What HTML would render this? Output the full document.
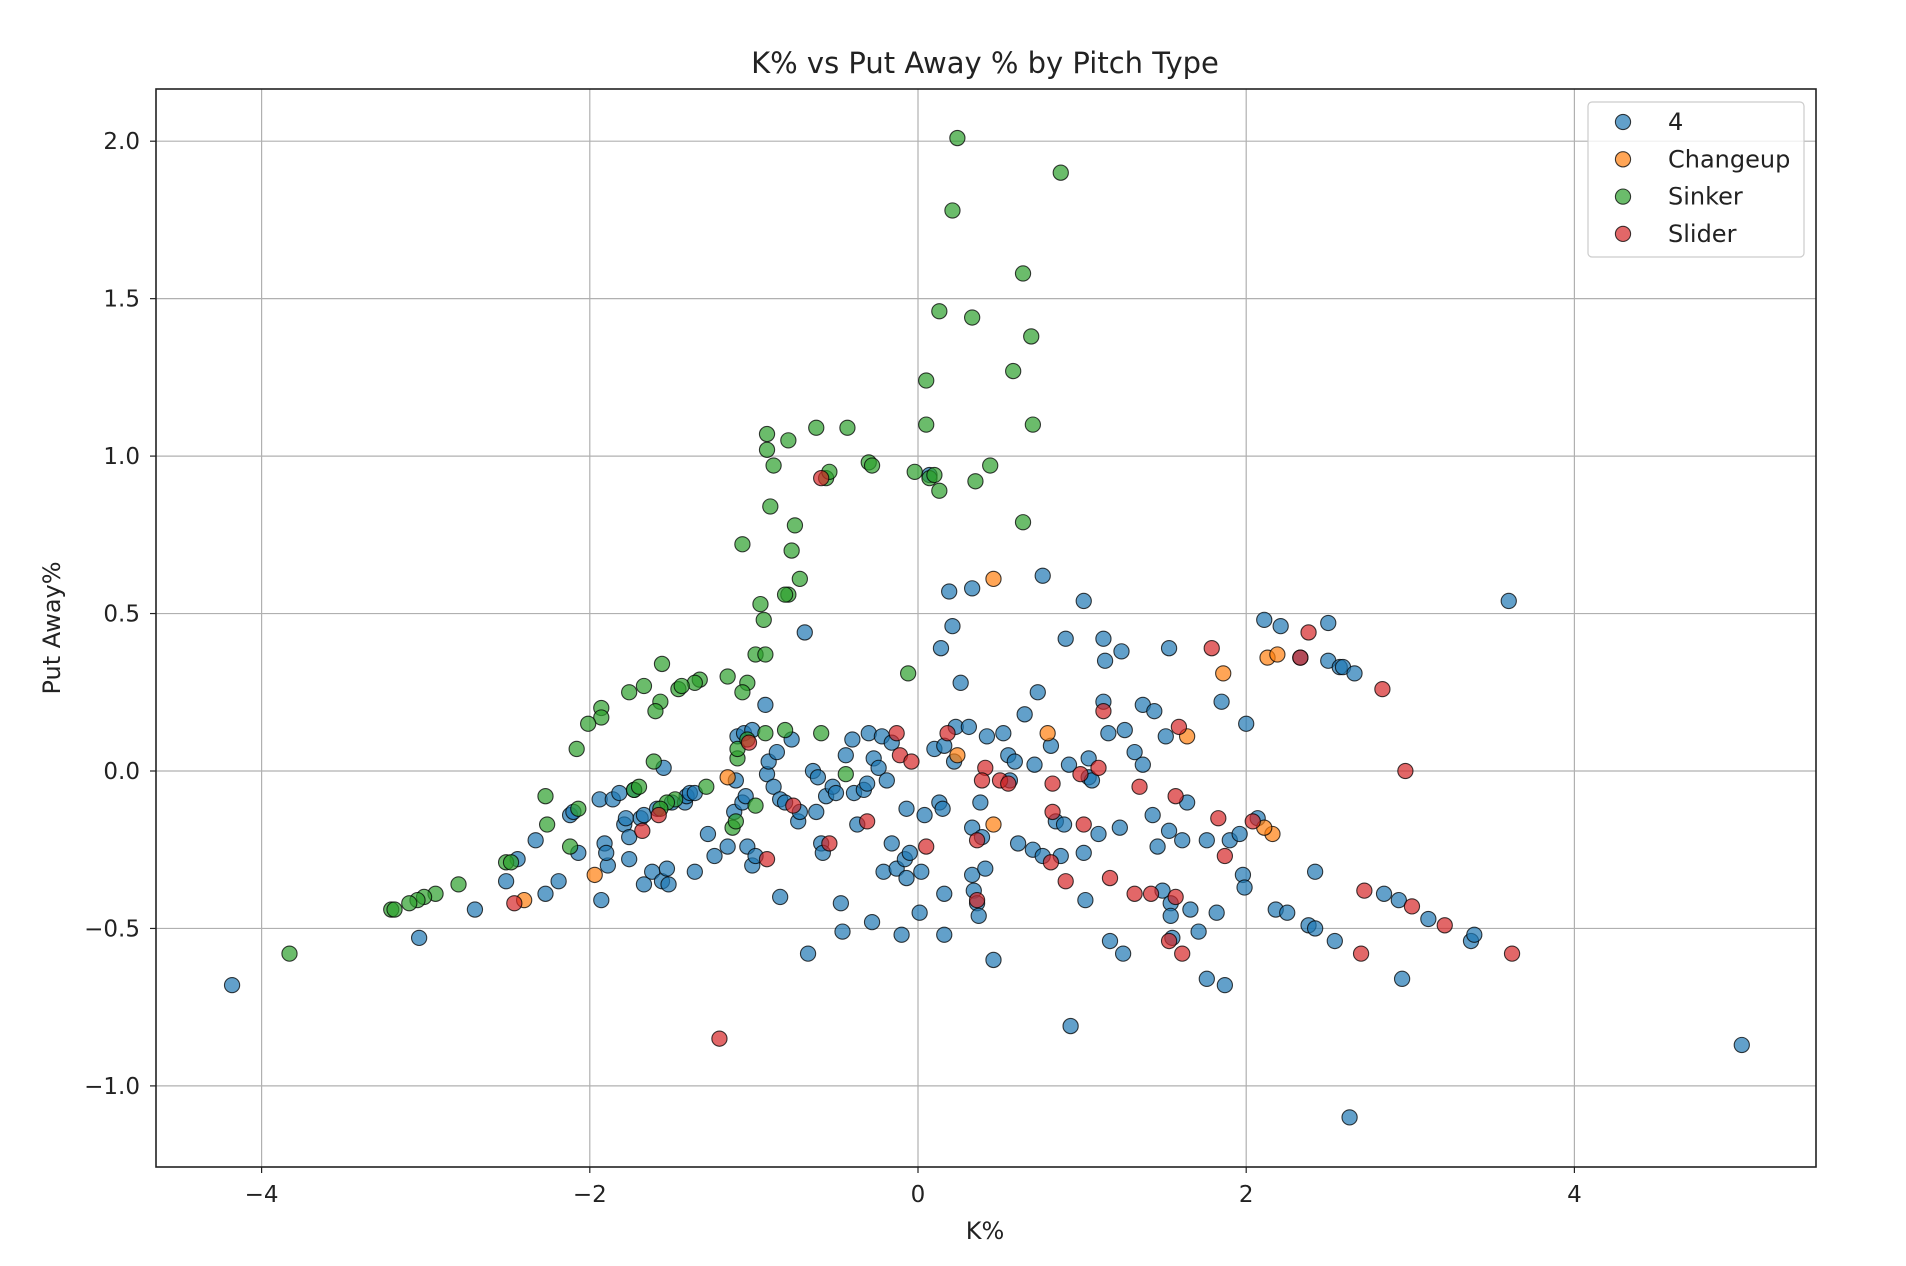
<!DOCTYPE html>
<html><head><meta charset="utf-8"><style>
html,body{margin:0;padding:0;background:#fff;}
svg{display:block;font-family:"DejaVu Sans","Liberation Sans",sans-serif;}
</style></head><body>
<svg id="chart" width="1906" height="1266" viewBox="0 0 1906 1266" xmlns="http://www.w3.org/2000/svg">
<rect x="0" y="0" width="1906" height="1266" fill="#fff"/>
<text x="985" y="73" text-anchor="middle" font-size="29" fill="#222">K% vs Put Away % by Pitch Type</text>
<g id="grid"></g>
<g id="ticks"></g>
<g id="points"></g>
<rect x="156" y="89" width="1660" height="1078" fill="none" stroke="#222" stroke-width="1.6"/>
<text x="985" y="1239" text-anchor="middle" font-size="24" fill="#222">K%</text>
<text x="0" y="0" transform="translate(60,628) rotate(-90)" text-anchor="middle" font-size="24" fill="#222">Put Away%</text>
<g id="legend">
<rect x="1588" y="102" width="216" height="155" rx="4" fill="#fff" fill-opacity="0.8" stroke="#ccc" stroke-width="1.2"/>
</g>
</svg>
<script>
const xTicks = [-4, -2, 0, 2, 4];
const yTicks = [-1.0, -0.5, 0.0, 0.5, 1.0, 1.5, 2.0];
const xTickLabels = ["\u22124", "\u22122", "0", "2", "4"];
const yTickLabels = ["\u22121.0", "\u22120.5", "0.0", "0.5", "1.0", "1.5", "2.0"];
const seriesNames = ["4", "Changeup", "Sinker", "Slider"];
const seriesColors = ["#1f77b4", "#ff7f0e", "#2ca02c", "#d62728"];

const fourX = [-4.18,-3.04,-2.70,-2.51,-2.44,-2.33,-2.27,-2.19,-2.12,-2.10,-2.07,-1.93,-1.94,-1.91,-1.89,-1.90,-1.86,-1.82,-1.79,-1.78,-1.76,-1.76,-1.73,-1.69,-1.67,-1.67,-1.62,-1.59,-1.56,-1.53,-1.52,-1.55,-1.50,-1.42,-1.41,-1.39,-1.36,-1.36,-1.28,-1.24,-1.16,-1.12,-1.07,-1.05,-1.04,-1.01,-0.99,-1.11,-1.10,-1.06,-1.01,-0.93,-0.92,-0.91,-0.88,-0.86,-0.84,-0.81,-0.84,-0.77,-0.73,-0.72,-0.69,-0.67,-0.62,-0.64,-0.61,-0.59,-0.58,-0.56,-0.52,-0.50,-0.47,-0.46,-0.44,-0.40,-0.39,-0.37,-0.33,-0.31,-0.30,-0.28,-0.27,-0.24,-0.22,-0.21,-0.19,-0.16,-0.16,-0.13,-0.10,-0.08,-0.07,-0.07,-0.05,0.01,0.02,0.04,0.07,0.10,0.13,0.14,0.15,0.16,0.16,0.16,0.19,0.21,0.22,0.23,0.26,0.31,0.33,0.33,0.33,0.34,0.36,0.37,0.38,0.39,0.41,0.42,0.46,0.52,0.55,0.56,0.59,0.61,0.65,0.70,0.71,0.73,0.76,0.76,0.81,0.84,0.87,0.89,0.90,0.92,0.93,1.01,1.02,1.01,1.04,1.04,1.06,1.10,1.13,1.13,1.14,1.16,1.17,1.23,1.25,1.24,1.26,1.32,1.37,1.37,1.43,1.44,1.46,1.49,1.51,1.53,1.53,1.54,1.54,1.55,1.61,1.64,1.66,1.71,1.76,1.76,1.82,1.85,1.87,1.90,1.96,1.98,1.99,2.00,2.07,2.11,2.18,2.21,2.25,2.33,2.38,2.42,2.42,2.50,2.50,2.54,2.57,2.59,2.63,2.66,2.84,2.93,2.95,3.11,3.37,3.39,3.60,5.02];
const fourY = [-0.68,-0.53,-0.44,-0.35,-0.28,-0.22,-0.39,-0.35,-0.14,-0.13,-0.26,-0.41,-0.09,-0.23,-0.30,-0.26,-0.09,-0.07,-0.17,-0.15,-0.21,-0.28,-0.06,-0.15,-0.14,-0.36,-0.32,-0.12,-0.35,-0.31,-0.36,0.01,-0.10,-0.10,-0.08,-0.07,-0.07,-0.32,-0.20,-0.27,-0.24,-0.13,-0.10,-0.08,-0.24,-0.30,-0.27,-0.03,0.11,0.12,0.13,0.21,-0.01,0.03,-0.05,0.06,-0.09,-0.10,-0.40,0.10,-0.16,-0.13,0.44,-0.58,-0.13,0.00,-0.02,-0.23,-0.26,-0.08,-0.05,-0.07,-0.42,-0.51,0.05,0.10,-0.07,-0.17,-0.06,-0.04,0.12,-0.48,0.04,0.01,0.11,-0.32,-0.03,-0.23,0.09,-0.31,-0.52,-0.28,-0.12,-0.34,-0.26,-0.45,-0.32,-0.14,0.94,0.07,-0.10,0.39,-0.12,0.08,-0.39,-0.52,0.57,0.46,0.03,0.14,0.28,0.14,0.58,-0.18,-0.33,-0.38,-0.42,-0.46,-0.10,-0.21,-0.31,0.11,-0.60,0.12,0.05,-0.03,0.03,-0.23,0.18,-0.25,0.02,0.25,-0.27,0.62,0.08,-0.16,-0.27,-0.17,0.42,0.02,-0.81,0.54,-0.41,-0.26,0.04,-0.02,-0.03,-0.20,0.22,0.42,0.35,0.12,-0.54,-0.18,-0.58,0.38,0.13,0.06,0.02,0.21,-0.14,0.19,-0.24,-0.38,0.11,0.39,-0.19,-0.42,-0.46,-0.53,-0.22,-0.10,-0.44,-0.51,-0.22,-0.66,-0.45,0.22,-0.68,-0.22,-0.20,-0.33,-0.37,0.15,-0.15,0.48,-0.44,0.46,-0.45,0.36,-0.49,-0.32,-0.50,0.35,0.47,-0.54,0.33,0.33,-1.10,0.31,-0.39,-0.41,-0.66,-0.47,-0.54,-0.52,0.54,-0.87];

const changeupX = [0.46,1.86,2.13,2.19,1.64,0.79,0.24,-1.16,0.46,2.16,-1.97,-2.40,2.11];
const changeupY = [0.61,0.31,0.36,0.37,0.11,0.12,0.05,-0.02,-0.17,-0.20,-0.33,-0.41,-0.18];

const sinkerX = [0.24,0.87,0.21,0.64,0.13,0.33,0.69,0.58,0.05,0.05,0.70,-0.92,-0.92,-0.79,-0.62,-0.43,-0.88,-0.30,-0.28,-0.02,0.07,0.10,0.44,0.35,0.13,-0.56,-0.54,-0.90,0.64,-0.75,-1.07,-0.77,-0.72,-0.79,-0.81,-0.96,-0.94,-0.99,-0.93,-1.56,-1.16,-1.04,-1.33,-1.36,-1.46,-1.44,-1.67,-1.76,-1.07,-1.93,-1.93,-2.01,-1.57,-1.60,-0.06,-2.08,-0.93,-0.81,-0.59,-1.61,-0.44,-1.10,-1.10,-1.04,-2.27,-2.07,-2.12,-2.26,-1.29,-1.48,-1.53,-1.57,-1.73,-1.70,-0.99,-1.13,-1.11,-2.51,-2.48,-2.80,-2.94,-3.01,-3.05,-3.10,-3.21,-3.19,-3.83];
const sinkerY = [2.01,1.90,1.78,1.58,1.46,1.44,1.38,1.27,1.24,1.10,1.10,1.07,1.02,1.05,1.09,1.09,0.97,0.98,0.97,0.95,0.93,0.94,0.97,0.92,0.89,0.93,0.95,0.84,0.79,0.78,0.72,0.70,0.61,0.56,0.56,0.53,0.48,0.37,0.37,0.34,0.30,0.28,0.29,0.28,0.26,0.27,0.27,0.25,0.25,0.20,0.17,0.15,0.22,0.19,0.31,0.07,0.12,0.13,0.12,0.03,-0.01,0.04,0.07,0.10,-0.08,-0.12,-0.24,-0.17,-0.05,-0.09,-0.10,-0.12,-0.06,-0.05,-0.11,-0.18,-0.16,-0.29,-0.29,-0.36,-0.39,-0.40,-0.41,-0.42,-0.44,-0.44,-0.58];

const sliderX = [-0.59,1.79,2.38,2.33,2.83,2.97,1.13,1.59,0.18,-0.13,-0.11,-0.04,-1.03,0.41,0.39,0.50,0.55,0.82,0.99,0.82,1.10,1.35,1.57,1.83,2.04,1.87,1.01,-0.31,-0.76,0.05,-0.54,-1.68,-1.58,-0.92,0.36,0.81,0.90,1.17,1.32,1.42,1.57,0.36,2.72,3.01,3.21,2.70,3.62,1.53,1.61,-2.46,-1.21];
const sliderY = [0.93,0.39,0.44,0.36,0.26,0.00,0.19,0.14,0.12,0.12,0.05,0.03,0.09,0.01,-0.03,-0.03,-0.04,-0.04,-0.01,-0.13,0.01,-0.05,-0.08,-0.15,-0.16,-0.27,-0.17,-0.16,-0.11,-0.24,-0.23,-0.19,-0.14,-0.28,-0.22,-0.29,-0.35,-0.34,-0.39,-0.39,-0.40,-0.41,-0.38,-0.43,-0.49,-0.58,-0.58,-0.54,-0.58,-0.42,-0.85];

const NS = "http://www.w3.org/2000/svg";
const PL = 156, PR = 1816, PT = 89, PB = 1167;
function xScale(v){ return 918 + v * 164.1; }
function yScale(v){ return 771 - v * 314.9; }

const grid = document.getElementById('grid');
const ticks = document.getElementById('ticks');
xTicks.forEach((t, i) => {
  const x = xScale(t);
  const gl = document.createElementNS(NS, 'line');
  gl.setAttribute('x1', x); gl.setAttribute('x2', x); gl.setAttribute('y1', PT); gl.setAttribute('y2', PB);
  gl.setAttribute('stroke', '#b0b0b0'); gl.setAttribute('stroke-width', '1.2');
  
  
  grid.appendChild(gl);
  const tk = document.createElementNS(NS, 'line');
  tk.setAttribute('x1', x); tk.setAttribute('x2', x); tk.setAttribute('y1', PB); tk.setAttribute('y2', PB + 6);
  tk.setAttribute('stroke', '#222'); tk.setAttribute('stroke-width', '1.2');
  
  
  ticks.appendChild(tk);
  const tx = document.createElementNS(NS, 'text');
  tx.setAttribute('x', x); tx.setAttribute('y', PB + 35);
  tx.setAttribute('text-anchor', 'middle'); tx.setAttribute('font-size', '23'); tx.setAttribute('fill', '#222');
  tx.textContent = xTickLabels[i];
  
  
  ticks.appendChild(tx);
});
yTicks.forEach((t, i) => {
  const y = yScale(t);
  const gl = document.createElementNS(NS, 'line');
  gl.setAttribute('x1', PL); gl.setAttribute('x2', PR); gl.setAttribute('y1', y); gl.setAttribute('y2', y);
  gl.setAttribute('stroke', '#b0b0b0'); gl.setAttribute('stroke-width', '1.2');
  
  
  grid.appendChild(gl);
  const tk = document.createElementNS(NS, 'line');
  tk.setAttribute('x1', PL - 6); tk.setAttribute('x2', PL); tk.setAttribute('y1', y); tk.setAttribute('y2', y);
  tk.setAttribute('stroke', '#222'); tk.setAttribute('stroke-width', '1.2');
  
  
  ticks.appendChild(tk);
  const tx = document.createElementNS(NS, 'text');
  tx.setAttribute('x', PL - 16); tx.setAttribute('y', y + 8);
  tx.setAttribute('text-anchor', 'end'); tx.setAttribute('font-size', '23'); tx.setAttribute('fill', '#222');
  tx.textContent = yTickLabels[i];
  
  
  ticks.appendChild(tx);
});

const pts = document.getElementById('points');
const allX = [fourX, changeupX, sinkerX, sliderX];
const allY = [fourY, changeupY, sinkerY, sliderY];
allX.forEach((xs, s) => {
  const g = document.createElementNS(NS, 'g');
  
  
  xs.forEach((xv, i) => {
    const c = document.createElementNS(NS, 'circle');
    c.setAttribute('cx', xScale(xv)); c.setAttribute('cy', yScale(allY[s][i])); c.setAttribute('r', 7.6);
    c.setAttribute('fill', seriesColors[s]); c.setAttribute('fill-opacity', '0.7');
    c.setAttribute('stroke', '#000'); c.setAttribute('stroke-opacity', '0.75'); c.setAttribute('stroke-width', '1.1');
    
    
    g.appendChild(c);
  });
  pts.appendChild(g);
});

const legend = document.getElementById('legend');
seriesNames.forEach((n, i) => {
  const y = 122 + i * 37.3;
  const c = document.createElementNS(NS, 'circle');
  c.setAttribute('cx', 1623); c.setAttribute('cy', y); c.setAttribute('r', 7.6);
  c.setAttribute('fill', seriesColors[i]); c.setAttribute('fill-opacity', '0.7');
  c.setAttribute('stroke', '#000'); c.setAttribute('stroke-opacity', '0.75'); c.setAttribute('stroke-width', '1.1');
  
  
  legend.appendChild(c);
  const t = document.createElementNS(NS, 'text');
  t.setAttribute('x', 1668); t.setAttribute('y', y + 8);
  t.setAttribute('font-size', '24'); t.setAttribute('fill', '#222');
  t.textContent = n;
  
  
  legend.appendChild(t);
});
</script>
</body></html>
